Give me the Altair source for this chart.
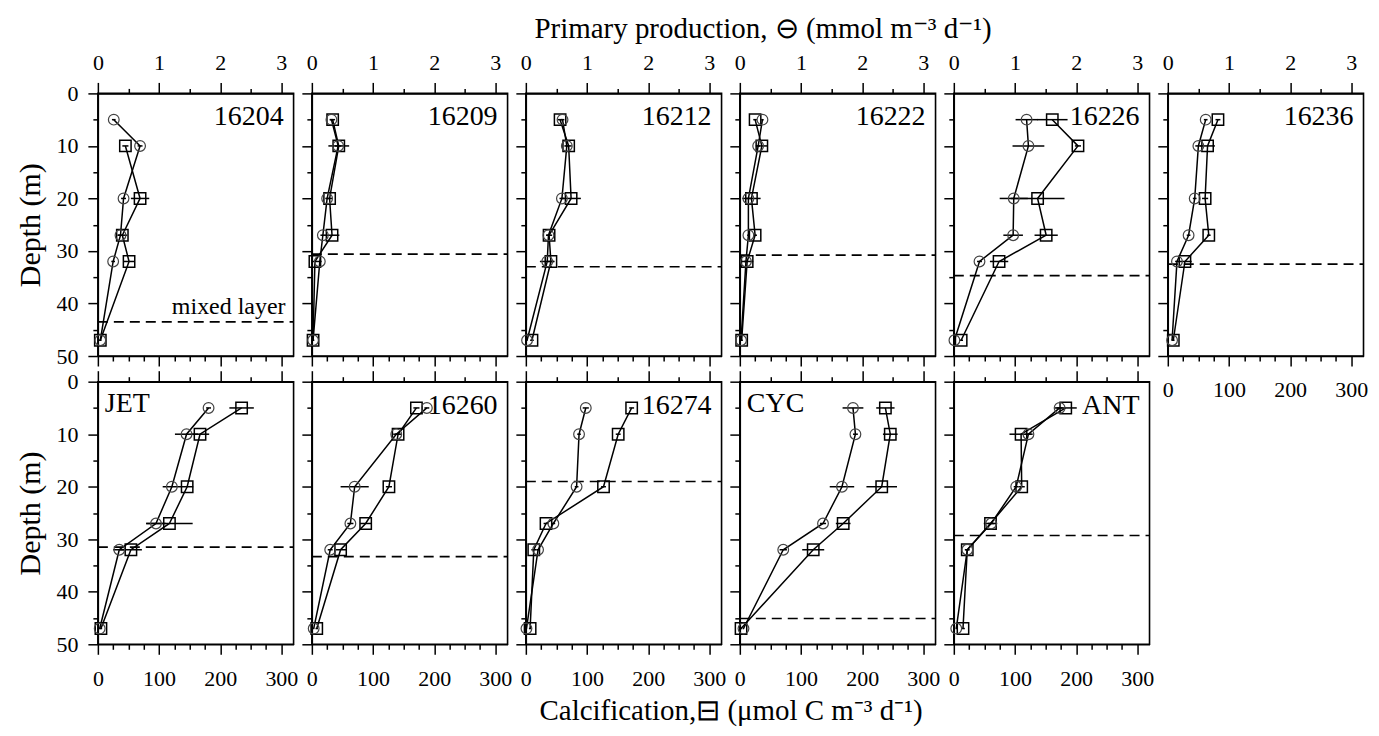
import altair as alt
import pandas as pd

DEPTH = [5, 10, 20, 27, 32, 47]

STATIONS = ["16204", "16209", "16212", "16222", "16226", "16236",
            "JET", "16260", "16274", "CYC", "ANT"]
LABEL_SIDE = ["right", "right", "right", "right", "right", "right",
              "left", "right", "right", "left", "right"]
MIXED_LAYER = [43.5, 30.6, 33.0, 30.8, 34.7, 32.5, 31.5, 33.3, 19.0, 45.1, 29.3]

# Primary production (mmol m-3 d-1) and calcification (umol C m-3 d-1)
PP_16204 = [0.26, 0.69, 0.42, 0.37, 0.25, 0.04]
PP_ERR_16204 = [0.03, 0.04, 0.04, 0.04, 0.03, 0.01]
CA_16204 = [None, 45, 69, 40, 51, 4]
CA_ERR_16204 = [None, 5, 15, 8, 9, 2]

PP_16209 = [0.32, 0.43, 0.25, 0.18, 0.13, 0.02]
PP_ERR_16209 = [0.03, 0.05, 0.03, 0.04, 0.03, 0.01]
CA_16209 = [34, 44, 29, 33, 5, 2]
CA_ERR_16209 = [4, 17, 5, 12, 5, 2]

PP_16212 = [0.60, 0.67, 0.59, 0.37, 0.35, 0.02]
PP_ERR_16212 = [0.03, 0.04, 0.04, 0.03, 0.12, 0.01]
CA_16212 = [56, 70, 74, 38, 41, 10]
CA_ERR_16212 = [4, 5, 16, 5, 5, 3]

PP_16222 = [0.37, 0.30, 0.14, 0.14, 0.10, 0.02]
PP_ERR_16222 = [0.02, 0.03, 0.05, 0.02, 0.03, 0.01]
CA_16222 = [25, 36, 19, 25, 12, 3]
CA_ERR_16222 = [3, 10, 15, 3, 10, 2]

PP_16226 = [1.19, 1.22, 0.98, 0.97, 0.42, 0.01]
PP_ERR_16226 = [0.18, 0.26, 0.23, 0.16, 0.04, 0.01]
CA_16226 = [161, 203, 137, 151, 74, 12]
CA_ERR_16226 = [25, 5, 44, 19, 15, 3]

PP_16236 = [0.62, 0.50, 0.44, 0.34, 0.15, 0.07]
PP_ERR_16236 = [0.03, 0.05, 0.03, 0.03, 0.03, 0.01]
CA_16236 = [82, 65, 61, 67, 28, 9]
CA_ERR_16236 = [4, 12, 5, 3, 11, 2]

PP_JET = [1.81, 1.45, 1.21, 0.95, 0.35, 0.03]
PP_ERR_JET = [0.04, 0.19, 0.15, 0.16, 0.10, 0.01]
CA_JET = [235, 167, 146, 117, 54, 5]
CA_ERR_JET = [20, 15, 10, 38, 18, 2]

PP_16260 = [1.88, 1.38, 0.70, 0.63, 0.30, 0.03]
PP_ERR_16260 = [0.04, 0.05, 0.23, 0.05, 0.04, 0.01]
CA_16260 = [171, 141, 126, 88, 47, 8]
CA_ERR_16260 = [5, 5, 5, 9, 9, 2]

PP_16274 = [0.98, 0.87, 0.83, 0.45, 0.20, 0.01]
PP_ERR_16274 = [0.05, 0.03, 0.03, 0.03, 0.03, 0.01]
CA_16274 = [173, 151, 127, 33, 13, 7]
CA_ERR_16274 = [4, 4, 4, 4, 4, 2]

PP_CYC = [1.85, 1.89, 1.67, 1.36, 0.71, 0.06]
PP_ERR_CYC = [0.17, 0.04, 0.20, 0.05, 0.06, 0.01]
CA_CYC = [238, 246, 232, 169, 120, 2]
CA_ERR_CYC = [15, 12, 25, 12, 18, 2]

PP_ANT = [1.73, 1.22, 1.02, 0.61, 0.22, 0.04]
PP_ERR_ANT = [0.05, 0.05, 0.04, 0.05, 0.03, 0.01]
CA_ANT = [183, 110, 111, 60, 22, 15]
CA_ERR_ANT = [18, 19, 5, 11, 4, 3]

PP = [PP_16204, PP_16209, PP_16212, PP_16222, PP_16226, PP_16236,
      PP_JET, PP_16260, PP_16274, PP_CYC, PP_ANT]
PP_ERR = [PP_ERR_16204, PP_ERR_16209, PP_ERR_16212, PP_ERR_16222, PP_ERR_16226, PP_ERR_16236,
          PP_ERR_JET, PP_ERR_16260, PP_ERR_16274, PP_ERR_CYC, PP_ERR_ANT]
CA = [CA_16204, CA_16209, CA_16212, CA_16222, CA_16226, CA_16236,
      CA_JET, CA_16260, CA_16274, CA_CYC, CA_ANT]
CA_ERR = [CA_ERR_16204, CA_ERR_16209, CA_ERR_16212, CA_ERR_16222, CA_ERR_16226, CA_ERR_16236,
          CA_ERR_JET, CA_ERR_16260, CA_ERR_16274, CA_ERR_CYC, CA_ERR_ANT]

PP_TICKS = [0, 0.5, 1, 1.5, 2, 2.5, 3]
CA_TICKS = list(range(0, 301, 25))
DEPTH_TICKS = list(range(0, 51, 5))

TOP_TITLE = "Primary production, \u2296 (mmol m\u207b\u00b3 d\u207b\u00b9)"
BOTTOM_TITLE = "Calcification,\u229f (\u03bcmol C m\u207b\u00b3 d\u207b\u00b9)"

W, H = 196, 263
FONT = "Liberation Serif"


def panel(idx):
    st = STATIONS[idx]
    row, col = divmod(idx, 6)

    pp_df = pd.DataFrame({"depth": DEPTH, "pp": PP[idx], "err": PP_ERR[idx]})
    ca_df = pd.DataFrame({"depth": DEPTH, "ca": CA[idx], "err": CA_ERR[idx]}).dropna()
    ml_df = pd.DataFrame({"mld": [MIXED_LAYER[idx]],
                          "note": ["mixed layer" if idx == 0 else ""]})
    lab_df = pd.DataFrame({"label": [st]})

    y_axis = alt.Axis(
        values=DEPTH_TICKS,
        tickSize={"condition": {"test": "datum.value % 10 === 0", "value": 10}, "value": 5},
        labelExpr="datum.value % 10 === 0 ? '' + datum.value : ''",
        labels=(col == 0),
        title=("Depth (m)" if col == 0 else ""),
        titlePadding=10,
        labelPadding=10,
        titleFontSize=30,
    )
    yscale = alt.Scale(domain=[0, 50], reverse=True, nice=False, zero=False)
    Y = alt.Y("depth:Q", scale=yscale, axis=y_axis)

    pp_axis_kw = dict(
        orient="top",
        values=PP_TICKS,
        tickSize={"condition": {"test": "datum.value % 1 === 0", "value": 11}, "value": 5},
        labelExpr="datum.value % 1 === 0 ? '' + datum.value : ''",
        labels=(row == 0),
        labelPadding=8,
        title="",
    )
    if idx == 2:
        pp_axis_kw.update(title=TOP_TITLE, titleX=237, titlePadding=8)
    pp_axis = alt.Axis(**pp_axis_kw)
    pp_scale = alt.Scale(domain=[0, 3.2], nice=False, zero=False)

    ca_axis_kw = dict(
        orient="bottom",
        values=CA_TICKS,
        tickSize={"condition": {"test": "datum.value % 100 === 0", "value": 10}, "value": 5},
        labelExpr="datum.value % 100 === 0 ? '' + datum.value : ''",
        labels=(row == 1 or idx == 5),
        labelPadding=14,
        title="",
    )
    if idx == 8:
        ca_axis_kw.update(title=BOTTOM_TITLE, titleX=205, titlePadding=7)
    ca_axis = alt.Axis(**ca_axis_kw)
    ca_scale = alt.Scale(domain=[0, 320], nice=False, zero=False)

    # Primary production layers (circles)
    pp_base = alt.Chart(pp_df)
    pp_line = pp_base.mark_line(color="black", strokeWidth=1.5).encode(
        x=alt.X("pp:Q", scale=pp_scale, axis=pp_axis), y=Y, order=alt.Order("depth:Q"))
    pp_err = pp_base.transform_calculate(
        lo="datum.pp - datum.err", hi="datum.pp + datum.err"
    ).mark_rule(color="black", strokeWidth=1.5).encode(
        x=alt.X("lo:Q", scale=pp_scale, axis=pp_axis), x2="hi:Q", y=Y)
    pp_pts = pp_base.mark_point(shape="circle", filled=False, color="#444444",
                                strokeWidth=1.2, size=115, opacity=1).encode(
        x=alt.X("pp:Q", scale=pp_scale, axis=pp_axis), y=Y)
    pp_group = alt.layer(pp_line, pp_err, pp_pts)

    # Calcification layers (squares)
    ca_base = alt.Chart(ca_df)
    ca_line = ca_base.mark_line(color="black", strokeWidth=1.5).encode(
        x=alt.X("ca:Q", scale=ca_scale, axis=ca_axis), y=Y, order=alt.Order("depth:Q"))
    ca_err = ca_base.transform_calculate(
        lo="datum.ca - datum.err", hi="datum.ca + datum.err"
    ).mark_rule(color="black", strokeWidth=1.5).encode(
        x=alt.X("lo:Q", scale=ca_scale, axis=ca_axis), x2="hi:Q", y=Y)
    ca_pts = ca_base.mark_point(shape="square", filled=False, color="black",
                                strokeWidth=1.5, size=130, opacity=1).encode(
        x=alt.X("ca:Q", scale=ca_scale, axis=ca_axis), y=Y)
    ca_group = alt.layer(ca_line, ca_err, ca_pts)

    # mixed layer depth
    ml_rule = alt.Chart(ml_df).mark_rule(color="black", strokeWidth=1.6,
                                         strokeDash=[10, 6]).encode(
        y=alt.Y("mld:Q", scale=yscale, axis=y_axis),
        x=alt.value(0), x2=alt.value("width"))
    ml_text = alt.Chart(ml_df).mark_text(font=FONT, fontSize=24, align="right",
                                         baseline="bottom", dx=-8, dy=-3,
                                         color="black").encode(
        y=alt.Y("mld:Q", scale=yscale, axis=y_axis),
        x=alt.value("width"), text="note:N")

    if LABEL_SIDE[idx] == "right":
        lab = alt.Chart(lab_df).mark_text(font=FONT, fontSize=28, align="right",
                                          baseline="middle", dx=-10,
                                          color="black").encode(
            x=alt.value("width"), y=alt.value(24), text="label:N")
    else:
        lab = alt.Chart(lab_df).mark_text(font=FONT, fontSize=28, align="left",
                                          baseline="middle", dx=7,
                                          color="black").encode(
            x=alt.value(0), y=alt.value(22), text="label:N")

    return alt.layer(ml_rule, ml_text, ca_group, pp_group, lab).resolve_scale(
        x="independent").properties(width=W, height=H)


panels = [panel(i) for i in range(len(STATIONS))]

chart = alt.concat(*panels, columns=6, spacing={"row": 25.7, "column": 18.3}).properties(
    bounds="flush",
    padding={"left": 7, "top": 5, "right": 2, "bottom": 0},
).configure_view(
    stroke="black", strokeWidth=1.6
).configure_axis(
    domainColor="black", domainWidth=1.5,
    tickColor="black", tickWidth=1.5,
    labelFont=FONT, labelFontSize=22, labelColor="black",
    titleFont=FONT, titleFontSize=29, titleFontWeight="normal", titleColor="black",
    grid=False, labelFlush=False, labelOverlap=False,
)

chart.save("out.html", embed_options={"renderer": "svg", "actions": False})
